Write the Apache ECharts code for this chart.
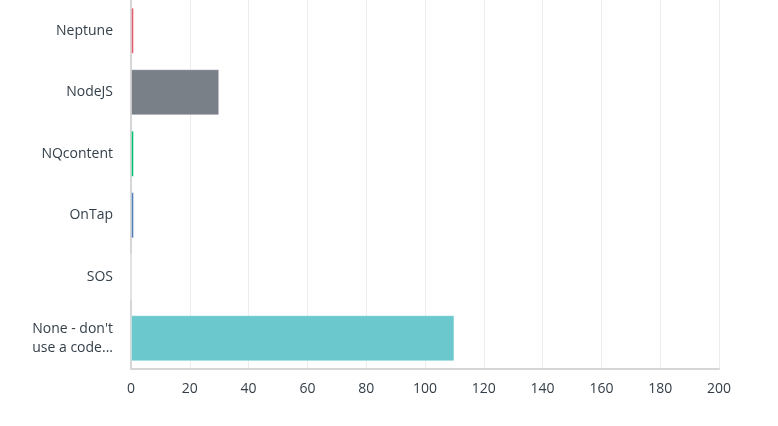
<!DOCTYPE html>
<html>
<head>
<meta charset="utf-8">
<script src="https://cdn.jsdelivr.net/npm/echarts@6/dist/echarts.min.js"></script>
<style>html,body{margin:0;padding:0;background:#fff;}#c{width:778px;height:426px;}</style>
</head>
<body>
<div id="c"></div>
<script>
var categories = ["Neptune", "NodeJS", "NQcontent", "OnTap", "SOS", "None - don't\nuse a code..."];
var values = [1, 30, 1, 1, 0, 110];
var barColors = ["#e05a6c", "#7a8087", "#00bf6f", "#507cb6", "#f9be00", "#6bc8cd"];
var xTicks = { min: 0, max: 200, interval: 20 };

var chart = echarts.init(document.getElementById('c'));
chart.setOption({
  animation: false,
  grid: { left: 131, right: 59, top: -5, bottom: 57, containLabel: false },
  xAxis: {
    type: 'value', min: xTicks.min, max: xTicks.max, interval: xTicks.interval,
    axisLine: { show: true, lineStyle: { color: '#d6d6d6', width: 2 } },
    axisTick: { show: false },
    axisLabel: { color: '#333e48', fontSize: 14, fontFamily: 'Open Sans, sans-serif', margin: 13 },
    splitLine: { show: true, lineStyle: { color: '#ececec', width: 1 } }
  },
  yAxis: {
    type: 'category', inverse: true, data: categories,
    axisLine: { show: true, lineStyle: { color: '#d6d6d6', width: 2 } },
    axisTick: { show: false },
    axisLabel: { color: '#333e48', fontSize: 14, fontFamily: 'Open Sans, sans-serif', margin: 18, lineHeight: 19, align: 'right' },
    splitLine: { show: false }
  },
  series: [{
    type: 'bar',
    data: values.map(function (v, i) { return { value: v, itemStyle: { color: barColors[i] } }; }),
    barCategoryGap: '25%',
    itemStyle: { borderColor: 'rgba(255,255,255,0.35)', borderWidth: 1 },
    z: 1
  }]
});
</script>
</body>
</html>
